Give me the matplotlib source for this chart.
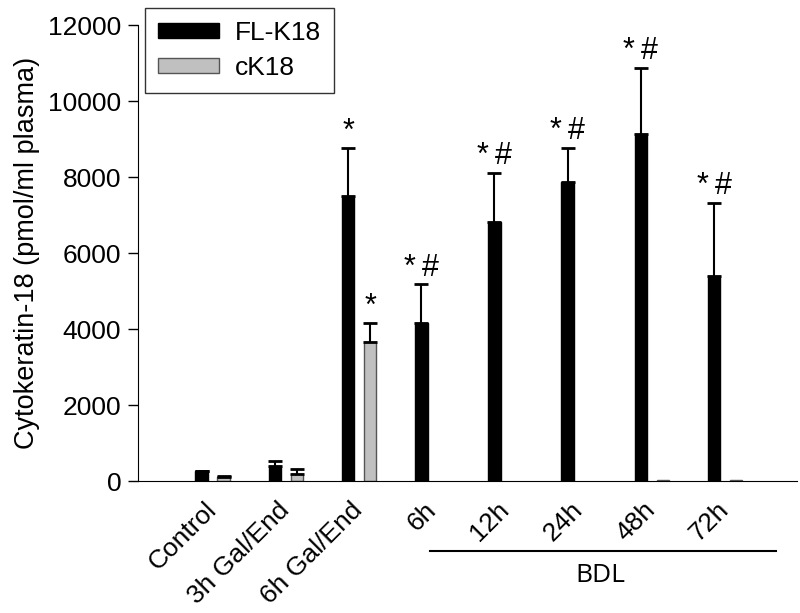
import numpy as np
import matplotlib
matplotlib.use("Agg")
import matplotlib.pyplot as plt
import matplotlib.transforms as mtransforms

categories = ['Control', '3h Gal/End', '6h Gal/End', '6h', '12h', '24h', '48h', '72h']
fl_mean = [270, 400, 7510, 4150, 6830, 7860, 9140, 5410]
fl_err = [0, 130, 1260, 1040, 1290, 920, 1740, 1920]
ck_mean = [110, 200, 3660, np.nan, np.nan, np.nan, 30, 30]
ck_err = [40, 110, 500, 0, 0, 0, 0, 0]
fl_sig = ['', '', '*', '*\u2009#', '*\u2009#', '*\u2009#', '*\u2009#', '*\u2009#']
ck_sig = ['', '', '*', '', '', '', '', '']

plt.rcParams['font.family'] = ['Liberation Sans', 'DejaVu Sans']

fig = plt.figure(figsize=(8, 6.13), dpi=100)
ax = fig.add_axes([0.1725, 0.215, 0.8235, 0.744])

x = np.arange(len(categories))
w = 0.17
off = 0.15

ax.bar(x - off, fl_mean, w, color='black', edgecolor='black', label='FL-K18')
ax.bar(x + off, ck_mean, w, color='#c0c0c0', edgecolor='#555555', linewidth=1, label='cK18')

ax.errorbar(x - off, fl_mean, yerr=[np.zeros(len(x)), fl_err], fmt='none',
            ecolor='black', elinewidth=1.5, capsize=5, capthick=2)
ck_plot = np.nan_to_num(np.array(ck_mean, dtype=float))
ax.errorbar((x + off)[:3], ck_plot[:3], yerr=[np.zeros(3), ck_err[:3]], fmt='none',
            ecolor='black', elinewidth=1.5, capsize=5, capthick=2)

for i in range(len(x)):
    if fl_sig[i]:
        ax.annotate(fl_sig[i], (x[i] - off, fl_mean[i] + fl_err[i]), xytext=(0, 1),
                    textcoords='offset points', ha='center', va='bottom', fontsize=22)
    if ck_sig[i]:
        ax.annotate(ck_sig[i], (x[i] + off, ck_mean[i] + ck_err[i]), xytext=(0, 1),
                    textcoords='offset points', ha='center', va='bottom', fontsize=22)

ax.set_xlim(-1.02, 7.98)
ax.set_ylim(0, 12000)
ax.set_yticks([0, 2000, 4000, 6000, 8000, 10000, 12000])
ax.tick_params(axis='y', labelsize=19, length=7, width=1, direction='out', pad=5)
ax.set_xticks(x)
ax.set_xticklabels(categories, rotation=45, ha='right', va='center',
                   rotation_mode='anchor', fontsize=19)
ax.tick_params(axis='x', length=0, pad=18)
ax.spines['top'].set_visible(False)
ax.spines['right'].set_visible(False)
ax.set_ylabel('Cytokeratin-18 (pmol/ml plasma)', fontsize=19.5, labelpad=6)

# BDL bracket under the last five groups
trans = mtransforms.blended_transform_factory(ax.transData, ax.transAxes)
ax.plot([2.97, 7.7], [-0.153, -0.153], color='black', lw=1.5, transform=trans, clip_on=False)
ax.text(5.3, -0.206, 'BDL', transform=trans, ha='center', va='center', fontsize=19,
        family=['Open Sans', 'DejaVu Sans'])

leg = ax.legend(loc='upper left', bbox_to_anchor=(145 / 800, 1 - 8 / 613),
                bbox_transform=fig.transFigure, borderaxespad=0, fontsize=19,
                fancybox=False, edgecolor='#333333', framealpha=1, handlelength=2.3,
                handleheight=0.5, borderpad=0.5, handletextpad=0.6, labelspacing=0.4)
leg.get_frame().set_linewidth(1)

fig.savefig('out.png', dpi=100)
